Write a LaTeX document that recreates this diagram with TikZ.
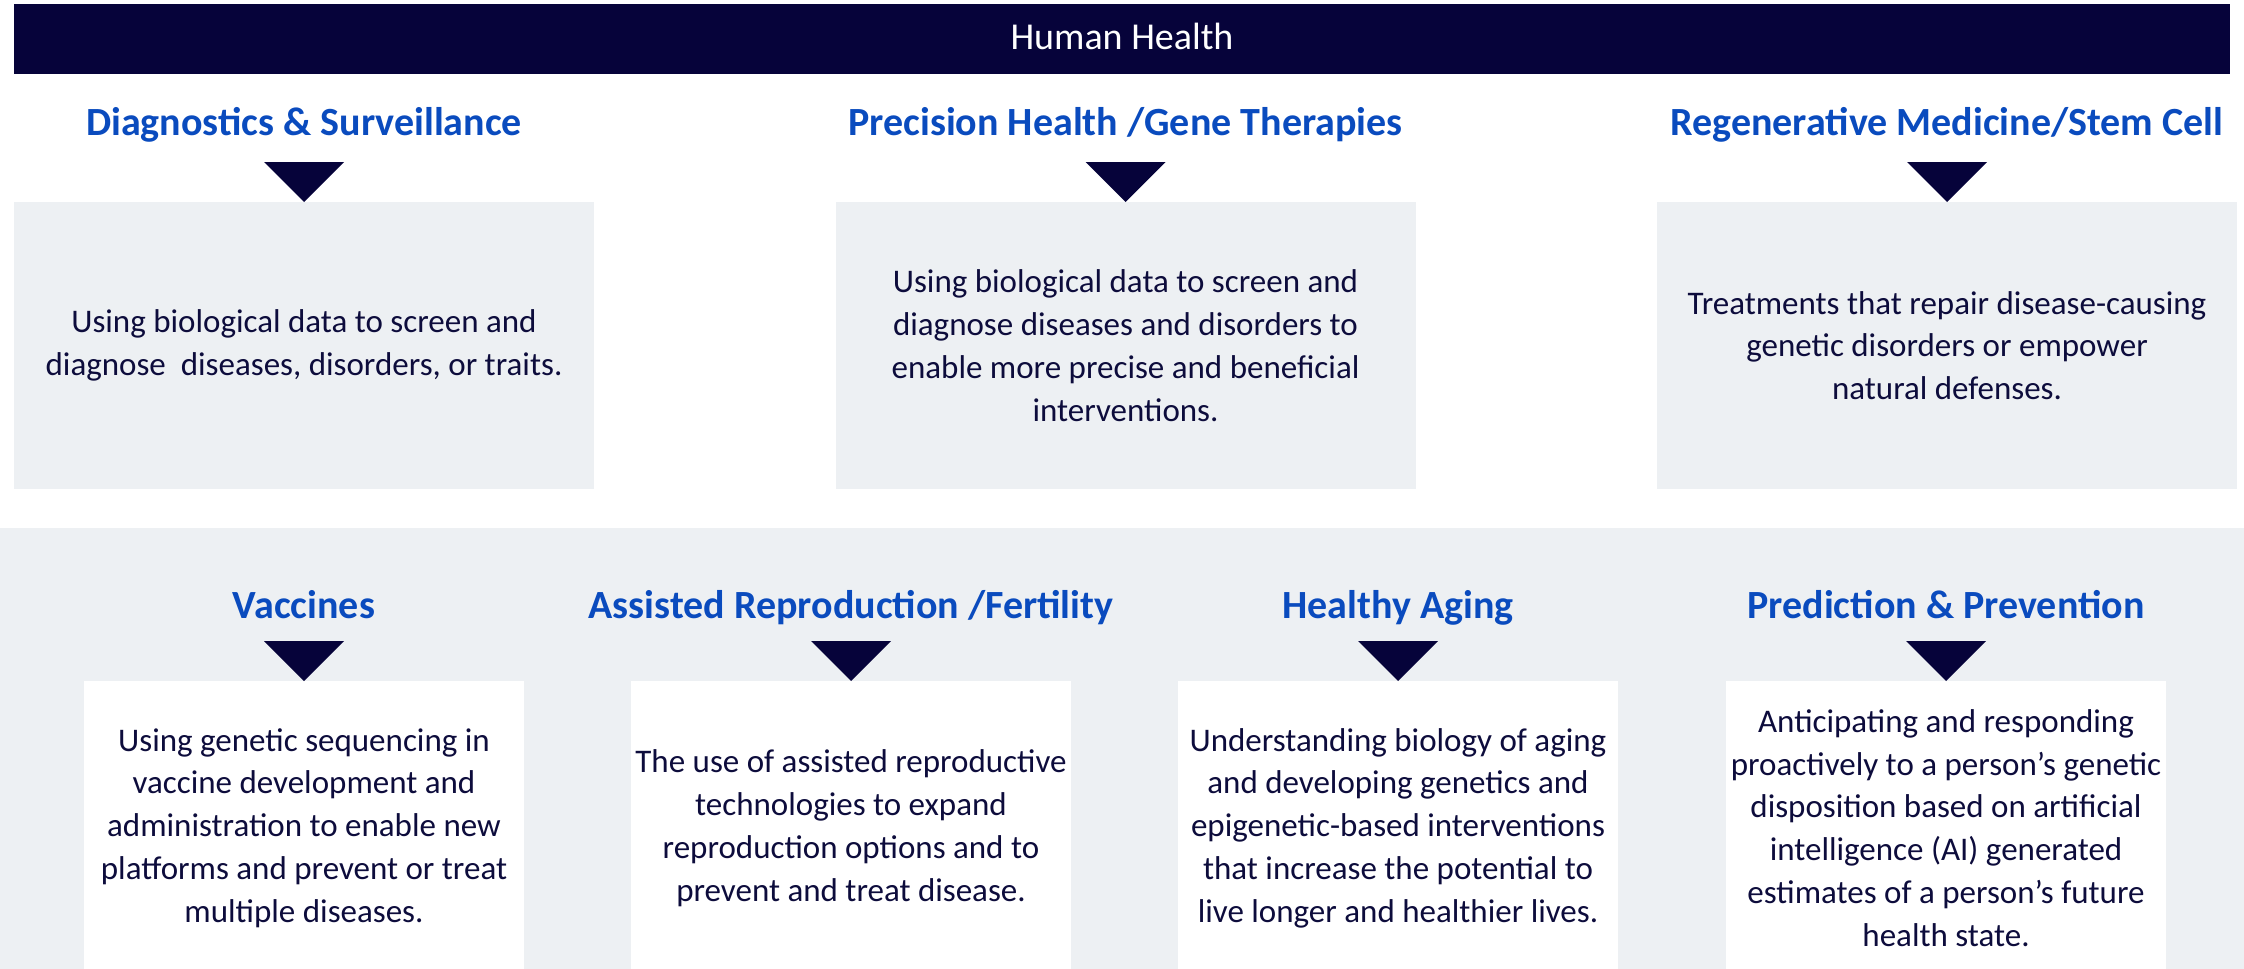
\documentclass[tikz,border=0pt]{standalone}
\usepackage{fontspec}
\setmainfont{Carlito}
\usepackage{tikz}

\definecolor{navy}{HTML}{06033A}
\definecolor{areablue}{HTML}{0A4BBE}
\definecolor{panelgray}{HTML}{EDF0F3}
\definecolor{bodyink}{HTML}{0D0C3C}

\begin{document}
\begin{tikzpicture}[x=0.5pt, y=-0.5pt, every node/.style={inner sep=0pt, outer sep=0pt}]
    \tikzstyle{banner}=[fill=navy, minimum width=1108pt, minimum height=35pt]
    \tikzstyle{banner text}=[text=white, anchor=base, font=\fontsize{19}{23}\selectfont]
    \tikzstyle{area}=[text=areablue, anchor=base, font=\bfseries\fontsize{20}{24}\selectfont]
    \tikzstyle{card}=[text=bodyink, align=center, font=\fontsize{16.5}{21.4}\selectfont]
    \tikzstyle{top card}=[card, fill=panelgray, minimum width=290pt, minimum height=143.5pt]
    \tikzstyle{low card}=[card, fill=white, minimum width=220pt, minimum height=147pt]
    \tikzstyle{pointer}=[fill=navy]

    \useasboundingbox (0,0) rectangle (2244,969);

    % Banner
    \node[banner] (HH) at (1122,39) {};
    \node[banner text] (HH-t) at (1122,49) {Human Health};

    % Top row
    \node[area] (T-1) at (304,135) {Diagnostics \& Surveillance};
    \node[area] (T-2) at (1125.5,135) {Precision Health /Gene Therapies};
    \node[area] (T-3) at (1947,135) {Regenerative Medicine/Stem Cell};

    \node[top card] (C-1) at (304,345.5) {Using biological data to screen and\\diagnose\ \ diseases, disorders, or traits.};
    \node[top card] (C-2) at (1125.5,345.5) {Using biological data to screen and\\diagnose diseases and disorders to\\enable more precise and beneficial\\interventions.};
    \node[top card] (C-3) at (1947,345.5) {Treatments that repair disease-causing\\genetic disorders or empower\\natural defenses.};

    % Lower panel
    \fill[panelgray] (0,528) rectangle (2244,969);

    \node[area] (B-1) at (304,618) {Vaccines};
    \node[area] (B-2) at (851,618) {Assisted Reproduction /Fertility};
    \node[area] (B-3) at (1398,618) {Healthy Aging};
    \node[area] (B-4) at (1946,618) {Prediction \& Prevention};

    \node[low card] (L-1) at (304,828) {Using genetic sequencing in\\vaccine development and\\administration to enable new\\platforms and prevent or treat\\multiple diseases.};
    \node[low card] (L-2) at (851,828) {The use of assisted reproductive\\technologies to expand\\reproduction options and to\\prevent and treat disease.};
    \node[low card] (L-3) at (1398,828) {Understanding biology of aging\\and developing genetics and\\epigenetic-based interventions\\that increase the potential to\\live longer and healthier lives.};
    \node[low card] (L-4) at (1946,828) {Anticipating and responding\\proactively to a person’s genetic\\disposition based on artificial\\intelligence (AI) generated\\estimates of a person’s future\\health state.};

    % Pointers
    \foreach \c in {C-1,C-2,C-3,L-1,L-2,L-3,L-4}
        \fill[pointer] (\c.north) -- ++(-40,-40) -- ++(80,0) -- cycle;

\end{tikzpicture}
\end{document}
